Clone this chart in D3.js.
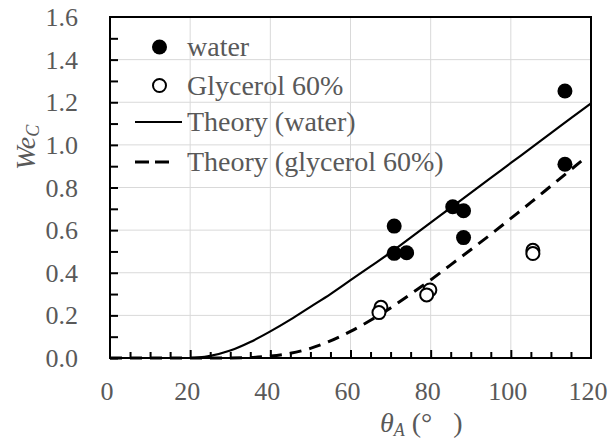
<!DOCTYPE html>
<html>
<head>
<meta charset="utf-8">
<script src="https://cdn.jsdelivr.net/npm/d3@7"></script>
<style>
  html, body { margin: 0; padding: 0; background: #fff; }
  svg { display: block; }
</style>
</head>
<body>
<svg id="chart" width="609" height="441"></svg>
<script>
// ---- data ----
const waterTheta = [70.9, 70.9, 74.0, 85.5, 88.2, 88.2, 113.5, 113.5];
const waterWe    = [0.619, 0.491, 0.494, 0.71, 0.691, 0.565, 1.253, 0.909];

const glyTheta = [67.6, 67.1, 79.8, 79.0, 105.5, 105.5];
const glyWe    = [0.238, 0.213, 0.319, 0.296, 0.505, 0.49];

const theoryWaterTheta = [0, 20, 25, 30, 35, 40, 45, 50, 55, 60, 65, 70, 75, 80, 85, 90, 95, 100, 105, 110, 115, 120];
const theoryWaterWe    = [0, 0, 0.01, 0.035, 0.075, 0.125, 0.18, 0.24, 0.30, 0.365, 0.43, 0.495, 0.565, 0.635, 0.705, 0.775, 0.845, 0.915, 0.985, 1.055, 1.125, 1.195];

const theoryGlyTheta = [0, 30, 35, 40, 45, 50, 55, 60, 65, 70, 75, 80, 85, 90, 95, 100, 105, 110, 115, 118];
const theoryGlyWe    = [0, 0, 0.002, 0.009, 0.022, 0.045, 0.08, 0.125, 0.177, 0.235, 0.30, 0.366, 0.437, 0.508, 0.58, 0.655, 0.73, 0.807, 0.884, 0.93];

const xTicks = [0, 20, 40, 60, 80, 100, 120];
const yTicks = [0.0, 0.2, 0.4, 0.6, 0.8, 1.0, 1.2, 1.4, 1.6];
const legendLabels = ["water", "Glycerol 60%", "Theory (water)", "Theory (glycerol 60%)"];

// ---- layout ----
const FONT = "'Liberation Serif', 'Times New Roman', Tinos, 'DejaVu Serif', serif";
const L = 110, R = 591, T = 17, B = 358;
const svg = d3.select("#chart");
const x = d3.scaleLinear().domain([0, 120]).range([L, R]);
const y = d3.scaleLinear().domain([0, 1.6]).range([B, T]);

// gridlines
const grid = svg.append("g");
grid.selectAll("line.vx").data(xTicks.filter(d => d > 0 && d < 120)).join("line")
  .attr("x1", d => x(d)).attr("x2", d => x(d)).attr("y1", T).attr("y2", B)
  .attr("stroke", "#d9d9d9").attr("stroke-width", 1);
grid.selectAll("line.hy").data(yTicks.filter(d => d > 0 && d < 1.6)).join("line")
  .attr("x1", L).attr("x2", R).attr("y1", d => y(d)).attr("y2", d => y(d))
  .attr("stroke", "#d9d9d9").attr("stroke-width", 1);

// theory curves
const line = d3.line().x(d => x(d[0])).y(d => y(d[1])).curve(d3.curveMonotoneX);
svg.append("path")
  .datum(theoryWaterTheta.map((t, i) => [t, theoryWaterWe[i]]))
  .attr("d", line).attr("fill", "none").attr("stroke", "#000").attr("stroke-width", 2.2);
svg.append("path")
  .datum(theoryGlyTheta.map((t, i) => [t, theoryGlyWe[i]]))
  .attr("d", line).attr("fill", "none").attr("stroke", "#000").attr("stroke-width", 3)
  .attr("stroke-dasharray", "12,8");

// axes (ticks inside)
const yAxis = d3.axisRight(y).tickValues(d3.range(0, 16).map(i => i / 10)).tickSize(8).tickFormat("");
const gy = svg.append("g").attr("transform", `translate(${L},0)`).call(yAxis);
gy.select(".domain").remove();
gy.selectAll("line").attr("stroke", "#000").attr("stroke-width", 2);

const xAxisMinor = d3.axisTop(x).tickValues(d3.range(5, 120, 5).filter(d => d % 20 !== 0)).tickSize(6).tickFormat("");
const gxm = svg.append("g").attr("transform", `translate(0,${B})`).call(xAxisMinor);
gxm.select(".domain").remove();
gxm.selectAll("line").attr("stroke", "#000").attr("stroke-width", 2);
const xAxisMajor = d3.axisTop(x).tickValues(xTicks.filter(d => d > 0 && d < 120)).tickSize(8).tickFormat("");
const gxM = svg.append("g").attr("transform", `translate(0,${B})`).call(xAxisMajor);
gxM.select(".domain").remove();
gxM.selectAll("line").attr("stroke", "#000").attr("stroke-width", 2);

// frame
svg.append("rect").attr("x", L).attr("y", T).attr("width", R - L).attr("height", B - T)
  .attr("fill", "none").attr("stroke", "#000").attr("stroke-width", 2);

// tick labels
svg.append("g").selectAll("text").data(yTicks).join("text")
  .attr("x", 78).attr("y", d => y(d)).attr("dy", "0.35em")
  .attr("text-anchor", "end").attr("font-size", 26)
  .attr("font-family", FONT).attr("fill", "#595959")
  .text(d => d.toFixed(1));
svg.append("g").selectAll("text").data(xTicks).join("text")
  .attr("x", d => x(d) - 3).attr("y", 400)
  .attr("text-anchor", "middle").attr("font-size", 26)
  .attr("font-family", FONT).attr("fill", "#595959")
  .text(d => d);

// data points
svg.append("g").selectAll("circle").data(waterTheta.map((t, i) => [t, waterWe[i]])).join("circle")
  .attr("cx", d => x(d[0])).attr("cy", d => y(d[1])).attr("r", 7.5).attr("fill", "#000");
svg.append("g").selectAll("circle").data(glyTheta.map((t, i) => [t, glyWe[i]])).join("circle")
  .attr("cx", d => x(d[0])).attr("cy", d => y(d[1])).attr("r", 6.5)
  .attr("fill", "#fff").attr("stroke", "#000").attr("stroke-width", 2);

// legend
const lg = svg.append("g");
const rowY = [47, 85.5, 122, 162];
lg.append("circle").attr("cx", 159.5).attr("cy", rowY[0]).attr("r", 7.5).attr("fill", "#000");
lg.append("circle").attr("cx", 159.5).attr("cy", rowY[1]).attr("r", 6.5).attr("fill", "#fff")
  .attr("stroke", "#000").attr("stroke-width", 2);
lg.append("line").attr("x1", 135).attr("x2", 182).attr("y1", rowY[2]).attr("y2", rowY[2])
  .attr("stroke", "#000").attr("stroke-width", 2.2);
lg.append("line").attr("x1", 135).attr("x2", 172).attr("y1", rowY[3]).attr("y2", rowY[3])
  .attr("stroke", "#000").attr("stroke-width", 3).attr("stroke-dasharray", "14,6");
lg.selectAll("text").data(legendLabels).join("text")
  .attr("x", 187).attr("y", (d, i) => rowY[i]).attr("dy", "0.33em")
  .attr("font-size", 28).attr("font-family", FONT).attr("fill", "#595959")
  .text(d => d);

// axis titles
const xt = svg.append("text").attr("x", 380).attr("y", 432).attr("font-size", 28)
  .attr("font-family", FONT).attr("fill", "#595959");
xt.append("tspan").attr("font-style", "italic").text("θ");
xt.append("tspan").attr("font-style", "italic").attr("font-size", 18).attr("dy", 4).text("A");
xt.append("tspan").attr("dy", -4).text("\u00a0(°\u00a0\u00a0\u00a0)");

const yt = svg.append("text").attr("transform", "translate(35,170) rotate(-90)").attr("font-size", 28)
  .attr("font-family", FONT).attr("fill", "#595959");
yt.append("tspan").attr("font-style", "italic").text("We");
yt.append("tspan").attr("font-style", "italic").attr("font-size", 18).attr("dy", 4).text("C");
</script>
</body>
</html>
